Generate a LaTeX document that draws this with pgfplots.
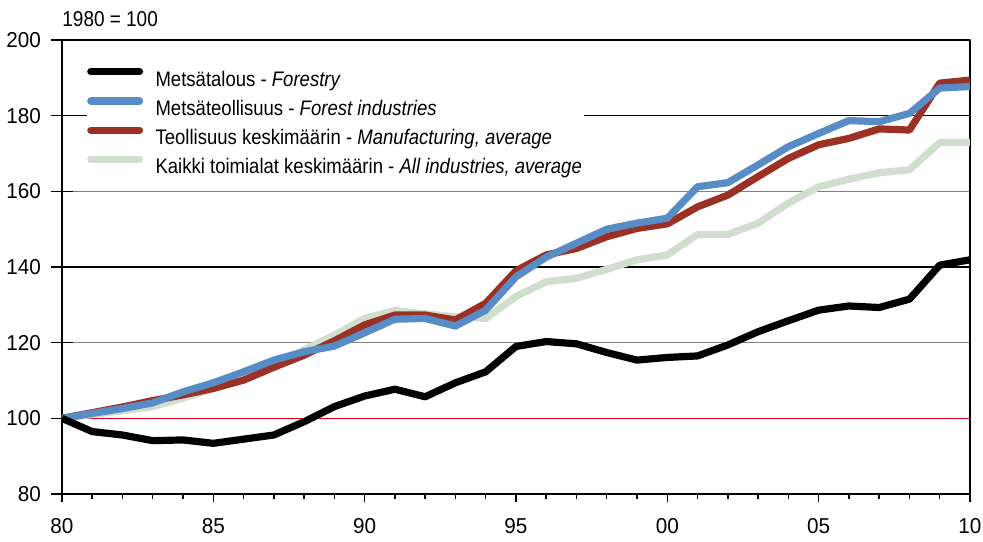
\documentclass[border=0pt]{standalone}
\usepackage{fontspec}
\setmainfont{Liberation Sans}[FakeStretch=0.88]
\newfontfamily\tickfont{Liberation Sans}[FakeStretch=0.96]
\usepackage{pgfplots}
\usepackage{pgfplotstable}
\pgfplotsset{compat=1.18}

\definecolor{forestblk}{RGB}{0,0,0}
\definecolor{indblue}{RGB}{88,140,198}
\definecolor{manred}{RGB}{155,48,36}
\definecolor{allgreen}{RGB}{208,222,206}
\definecolor{baseRed}{RGB}{228,0,27}

% index 1980 = 100
\pgfplotstableread{
year forestry forind manuf allind
1980 100.0 100.0 100.0 100.0
1981  96.5 101.3 101.5 101.0
1982  95.6 102.6 103.0 102.0
1983  94.1 104.1 104.7 103.1
1984  94.3 107.0 106.2 105.3
1985  93.4 109.4 107.9 107.9
1986  94.5 112.3 110.1 110.6
1987  95.6 115.4 113.5 114.1
1988  99.1 117.6 116.7 118.1
1989 103.1 119.1 120.5 122.0
1990 105.9 122.6 124.7 126.4
1991 107.7 126.2 127.3 128.5
1992 105.7 126.4 127.3 127.6
1993 109.4 124.4 126.0 126.9
1994 112.3 128.6 130.4 126.4
1995 119.0 137.4 139.0 132.2
1996 120.3 142.6 143.2 136.1
1997 119.7 146.3 144.9 137.0
1998 117.4 150.0 148.0 139.4
1999 115.4 151.6 150.2 141.9
2000 116.1 152.9 151.4 143.2
2001 116.5 161.2 155.9 148.6
2002 119.4 162.3 159.0 148.6
2003 122.9 167.0 163.9 151.6
2004 125.8 171.8 168.7 156.9
2005 128.6 175.3 172.3 161.2
2006 129.7 178.7 174.0 163.2
2007 129.3 178.4 176.5 164.9
2008 131.5 180.6 176.2 165.7
2009 140.5 187.3 188.6 172.9
2010 141.9 187.7 189.4 172.9
}\indexdata

\begin{document}
\begin{tikzpicture}
\begin{axis}[
    scale only axis,
    width=366.6pt,
    height=183.3pt,
    xmin=1980, xmax=2010,
    ymin=80, ymax=200,
    clip mode=individual,
    axis line style={line width=0.8pt},
    tick pos=left,
    xtick={1980,1985,...,2010},
    xticklabels={80,85,90,95,00,05,10},
    minor xtick={1981,...,2009},
    ytick={80,100,...,200},
    xtick align=outside,
    ytick align=center,
    major tick length=9pt,
    x tick style={black, line width=0.6pt, /pgfplots/major tick length=3.2pt, /pgfplots/minor tick length=2pt},
    y tick style={black, line width=0.6pt},
    /pgf/number format/assume math mode=true,
    ticklabel style={font=\tickfont\fontsize{8.7}{10}\selectfont},
    xticklabel style={yshift=2.5pt},
    yticklabel style={xshift=-0.5pt},
    ymajorgrids,
    major grid style={gray, line width=0.5pt},
    extra y ticks={140,180},
    extra y tick labels={},
    extra y tick style={major grid style={black, line width=0.5pt}},
    line join=round,
    reverse legend,
    legend cell align=left,
    legend style={
        at={(rel axis cs:0,1)}, anchor=north west,
        xshift=10pt, yshift=-9.9pt,
        draw=none, fill=white, inner sep=0pt,
        column sep=4pt,
        font=\fontsize{8.5}{10}\selectfont,
        nodes={inner sep=1pt, text height=7.6pt, text depth=2.2pt},
    },
    legend image code/.code={
        \draw[#1, line cap=round] (1.4pt,0.6ex) -- (21.1pt,0.6ex);
    },
]
\addplot[baseRed, line width=0.6pt, forget plot] coordinates {(1980,100) (2010,100)};
\addplot[allgreen, line width=2.9pt] table[x=year, y=allind] {\indexdata};
\addlegendentry{Kaikki toimialat keskimäärin - \textit{All industries, average}}
\addplot[manred, line width=2.9pt] table[x=year, y=manuf] {\indexdata};
\addlegendentry{Teollisuus keskimäärin - \textit{Manufacturing, average}}
\addplot[indblue, line width=2.9pt] table[x=year, y=forind] {\indexdata};
\addlegendentry{Metsäteollisuus - \textit{Forest industries}}
\addplot[forestblk, line width=2.9pt] table[x=year, y=forestry] {\indexdata};
\addlegendentry{Metsätalous - \textit{Forestry}}
\node[anchor=base west, inner sep=0pt, font=\fontsize{8.7}{10}\selectfont]
    at ([yshift=5.4pt]rel axis cs:0,1) {1980 = 100};
\coordinate (sw) at (rel axis cs:0,0);
\coordinate (ne) at (rel axis cs:1,1);
\end{axis}
\pgfresetboundingbox
\path ([shift={(-25pt,-19pt)}]sw) rectangle ([shift={(5.25pt,16.15pt)}]ne);
\end{tikzpicture}
\end{document}
